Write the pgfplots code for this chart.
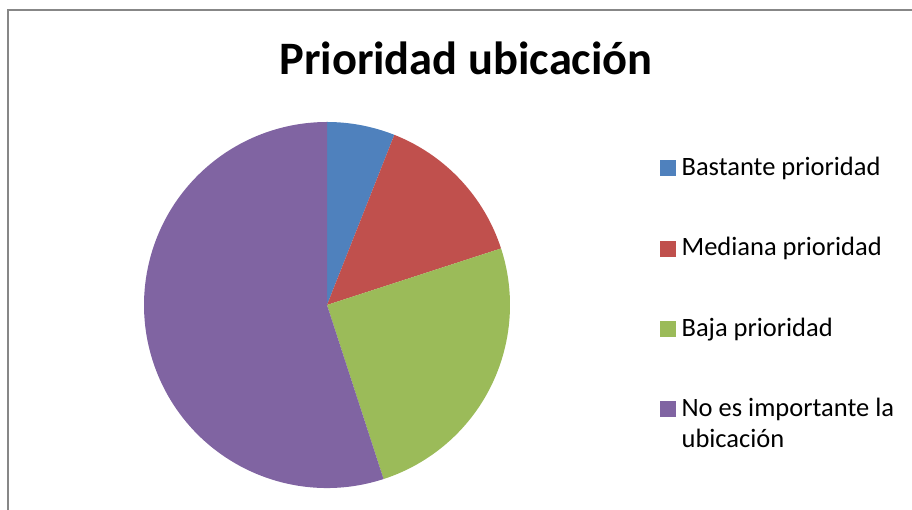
\documentclass[border=0pt]{standalone}
\usepackage{pgfplots}
\pgfplotsset{compat=1.18}
\usepackage{pgfplotstable}
\usepackage{fontspec}
\setmainfont{Carlito}
\definecolor{cBlue}{HTML}{4F81BD}
\definecolor{cRed}{HTML}{C0504D}
\definecolor{cGreen}{HTML}{9BBB59}
\definecolor{cPurple}{HTML}{8064A2}
\definecolor{frameGray}{HTML}{878787}

\pgfplotstableread{
id value
1 6
2 14
3 25
4 55
}\piedata

\newcommand\pieslice[2]{%
  \pgfplotstablegetelem{#1}{value}\of\piedata
  \pgfmathsetmacro\aend{\astart-3.6*\pgfplotsretval}%
  \edef\tmp{\noexpand\fill[#2] (axis cs:0,0) -- ++(\astart:183pt) arc[start angle=\astart, end angle=\aend, radius=183pt] -- cycle;}%
  \tmp
  \let\astart\aend
}

\begin{document}
\begin{tikzpicture}[x=1pt,y=1pt]
\path[use as bounding box] (0,0) rectangle (912,510);
\clip (0,0) rectangle (912,510);
\draw[frameGray, line width=2pt] (8.3,-20) |- (940,500);
\node[font=\fontsize{46.5}{54}\selectfont\bfseries, anchor=base, inner sep=0pt] at (466,435) {Prioridad ubicación};
\begin{axis}[
  at={(327pt,205pt)}, anchor=center,
  scale only axis, width=366pt, height=366pt,
  xmin=-1, xmax=1, ymin=-1, ymax=1,
  hide axis,
  clip=false,
  legend cell align=left,
  legend image code/.code={\fill[#1] (0pt,0pt) rectangle (15pt,15pt);},
  legend style={
    at={(1.4098,0.905)}, anchor=north west,
    draw=none, fill=none, inner sep=0pt,
    column sep=6pt, row sep=60.5pt,
    nodes={inner sep=0pt, anchor=base west},
    font=\fontsize{26.5}{31}\selectfont,
  },
]
\def\astart{90}
\pieslice{0}{cBlue}
\pieslice{1}{cRed}
\pieslice{2}{cGreen}
\pieslice{3}{cPurple}
\addlegendimage{cBlue}
\addlegendentry{Bastante prioridad}
\addlegendimage{cRed}
\addlegendentry{Mediana prioridad}
\addlegendimage{cGreen}
\addlegendentry{Baja prioridad}
\addlegendimage{cPurple}
\addlegendentry{\parbox[t]{230pt}{No es importante la\\ubicación}}
\end{axis}
\end{tikzpicture}
\end{document}
